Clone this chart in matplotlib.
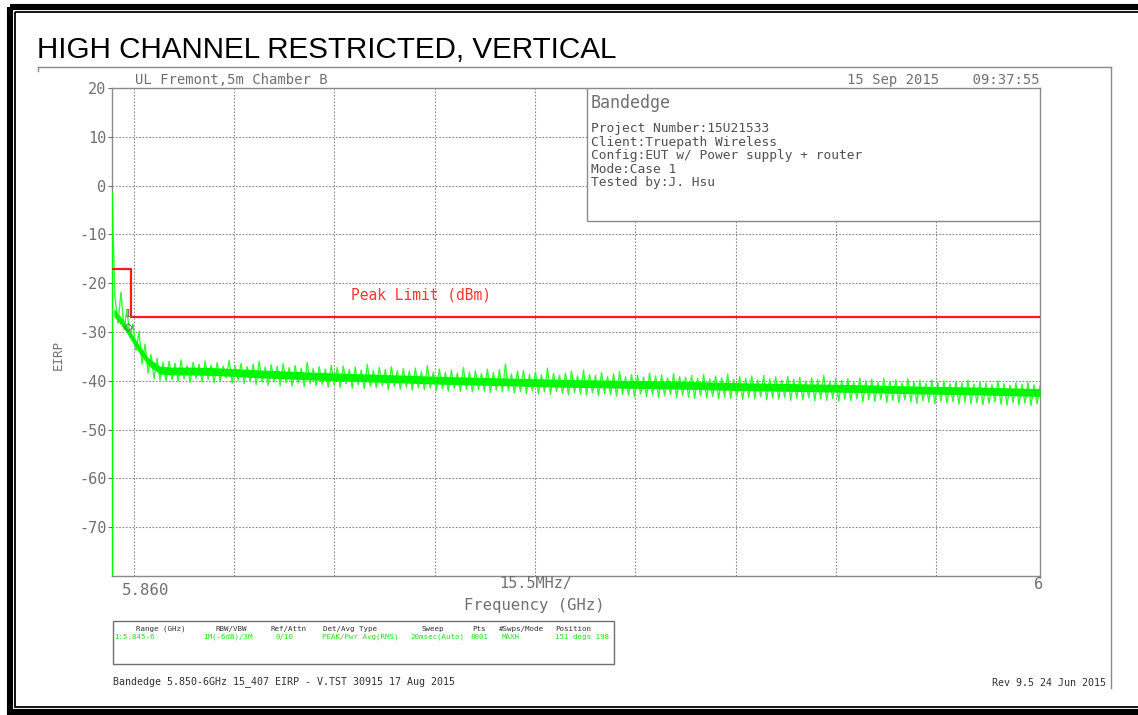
import numpy as np
import matplotlib.pyplot as plt
from matplotlib.patches import Rectangle

# sweep settings / axis data
f_start, f_stop = 5.845, 6.0
db_min, db_max = -80, 20
db_ticks = [20, 10, 0, -10, -20, -30, -40, -50, -60, -70]
grid_freqs = [5.8486, 5.8653, 5.8821, 5.8989, 5.9157, 5.9324, 5.9492, 5.9660, 5.9827]

# peak limit line (dBm)
limit_freqs = [5.845, 5.8481, 5.8481, 6.0]
limit_db = [-17, -17, -27, -27]

# marker 1
marker_freq = 5.8477
marker_db = -29.0

trace_db = [
    -1.5, -23.0, -28.2, -21.8, -29.5, -25.4, -31.0, -28.3, -33.8, -29.9,
    -36.6, -32.5, -38.4, -34.6, -39.6, -35.4, -39.9, -36.2, -40.0, -36.0,
    -39.8, -36.4, -40.1, -35.7, -39.6, -36.9, -40.3, -36.2, -39.5, -36.6,
    -40.2, -35.9, -39.7, -36.8, -40.4, -36.3, -40.0, -37.0, -39.4, -35.8,
    -40.5, -36.9, -39.9, -36.4, -40.6, -37.1, -40.1, -36.6, -40.8, -36.0,
    -40.3, -37.2, -40.9, -36.7, -40.2, -37.0, -41.0, -36.5, -40.4, -37.3,
    -41.1, -36.9, -40.5, -37.4, -41.2, -36.2, -40.6, -37.5, -41.0, -37.1,
    -40.7, -37.6, -41.3, -36.8, -40.9, -37.3, -41.4, -37.0, -40.6, -37.7,
    -41.5, -37.2, -40.8, -37.8, -41.6, -36.6, -41.1, -37.9, -41.4, -37.3,
    -41.0, -37.7, -41.8, -37.1, -41.2, -37.9, -41.7, -37.5, -41.3, -38.0,
    -41.9, -37.4, -41.4, -38.1, -41.8, -36.9, -41.5, -38.2, -42.0, -37.6,
    -41.6, -38.3, -42.1, -37.8, -41.5, -38.4, -42.2, -37.3, -41.7, -38.2,
    -42.3, -37.9, -41.8, -38.5, -42.1, -37.6, -42.4, -38.3, -41.9, -37.7,
    -42.3, -36.6, -42.0, -38.6, -42.5, -38.0, -42.2, -37.9, -42.6, -38.7,
    -42.1, -38.2, -42.7, -38.8, -42.3, -37.4, -42.8, -38.5, -42.2, -38.9,
    -42.6, -38.4, -42.9, -38.0, -42.4, -39.0, -42.7, -37.8, -43.0, -38.7,
    -42.5, -38.9, -43.1, -38.3, -42.6, -39.1, -42.9, -38.6, -43.2, -38.1,
    -42.8, -39.2, -43.0, -38.7, -43.3, -38.9, -42.7, -39.3, -43.2, -38.4,
    -42.9, -39.0, -43.4, -38.8, -43.1, -39.4, -42.8, -38.5, -43.5, -39.1,
    -43.0, -39.3, -43.4, -38.9, -43.6, -39.5, -43.1, -38.7, -43.5, -39.6,
    -43.2, -39.0, -43.7, -39.4, -43.3, -38.6, -43.6, -39.7, -43.2, -39.1,
    -43.8, -39.5, -43.4, -39.0, -43.7, -39.8, -43.3, -38.9, -43.9, -39.6,
    -43.5, -39.2, -43.8, -39.9, -43.4, -39.1, -44.0, -39.7, -43.6, -39.3,
    -43.9, -40.0, -43.5, -39.4, -44.1, -39.8, -43.7, -38.9, -44.0, -40.1,
    -43.6, -39.5, -44.2, -39.9, -43.8, -39.6, -44.1, -40.2, -43.7, -39.4,
    -44.3, -40.0, -43.9, -39.7, -44.2, -40.3, -43.8, -39.5, -44.4, -40.1,
    -44.0, -39.8, -44.5, -40.4, -43.9, -39.6, -44.3, -40.2, -44.6, -39.9,
    -44.1, -40.5, -44.4, -39.8, -44.7, -40.3, -44.2, -40.0, -44.6, -40.6,
    -44.3, -40.1, -44.8, -40.4, -44.4, -39.9, -44.7, -40.7, -44.5, -40.2,
    -44.9, -40.5, -44.6, -40.8, -44.3, -40.0, -44.8, -40.6, -45.0, -40.9,
    -44.5, -40.4, -44.9, -40.7, -44.6, -40.3, -45.1, -40.8, -44.7, -41.0,
]

# dense core of the noise band (lower / upper edge)
band_freqs = [5.8453, 5.847, 5.849, 5.851, 5.853, 5.855, 5.858, 5.862, 5.870, 5.880, 5.890,
              5.900, 5.910, 5.920, 5.930, 5.940, 5.950, 5.960, 5.970, 5.980, 5.990, 6.000]
band_lo = [-26.8, -29.3, -33.3, -36.8, -38.6, -38.8, -38.8, -38.9, -39.4, -39.9, -40.3,
           -40.7, -41.0, -41.3, -41.5, -41.7, -42.0, -42.2, -42.4, -42.7, -42.9, -43.2]
band_hi = [-25.2, -27.7, -31.7, -35.2, -37.0, -37.2, -37.2, -37.3, -37.8, -38.3, -38.7,
           -39.1, -39.4, -39.7, -39.9, -40.1, -40.4, -40.6, -40.8, -41.1, -41.3, -41.6]

info_lines = ["Project Number:15U21533", "Client:Truepath Wireless",
              "Config:EUT w/ Power supply + router", "Mode:Case 1", "Tested by:J. Hsu"]

set_heads = ["Range (GHz)", "RBW/VBW", "Ref/Attn", "Det/Avg Type", "Sweep",
             "Pts", "#Swps/Mode", "Position"]
set_vals = ["1:5.845-6", "1M(-6dB)/3M", "0/10", "PEAK/Pwr Avg(RMS)", "20msec(Auto)",
            "8001", "MAXH", "151 degs 198"]
head_x = [136, 216, 271, 323, 422, 472, 499, 555]
val_x = [114, 203, 276, 322, 410, 471, 502, 555]

GREY = '#707070'
MONO = 'DejaVu Sans Mono'

W, H = 1138, 715
fig = plt.figure(figsize=(W / 100, H / 100), dpi=100)

# ---------------- main plot ----------------
ax = fig.add_axes([112 / W, 1 - 576 / H, 928 / W, 488 / H])
ax.set_xlim(f_start, f_stop)
ax.set_ylim(db_min, db_max)

freq = np.linspace(f_start, f_stop, len(trace_db))
ax.plot(freq, trace_db, color='#33ff33', lw=1.0, zorder=3)
ax.fill_between(band_freqs, band_lo, band_hi, color='#00f500', lw=0, zorder=3)
ax.vlines(freq[0], db_min, trace_db[0], color='#00ff00', lw=1.5, zorder=3)
ax.plot(limit_freqs, limit_db, color='#ff1a1a', lw=1.6, zorder=4)

ax.plot(marker_freq, marker_db, marker='D', ms=4, mfc='none', mec=GREY, mew=0.8, zorder=5)
ax.text(marker_freq, marker_db + 2.6, '1', fontsize=8, color=GREY,
        family=MONO, ha='center', va='center', zorder=5)
ax.text(5.8849, -22.4, 'Peak Limit (dBm)', fontsize=10.5, color='#ff3333',
        family=MONO, ha='left', va='center')

ax.set_xticks(grid_freqs)
ax.set_xticklabels([])
ax.set_yticks(db_ticks)
ax.set_yticklabels([str(v) for v in db_ticks], family=MONO, fontsize=11, color=GREY)
ax.tick_params(axis='x', length=0)
ax.tick_params(axis='y', length=3, color=GREY, pad=1)
ax.grid(True, color='#888888', lw=0.8, ls=(0, (1.5, 1.5)))
ax.set_axisbelow(True)
for s in ax.spines.values():
    s.set_color('#8a8a8a')
    s.set_linewidth(1)

# info box inside the plot
x0 = (587 - 112) / 928
y0 = (576 - 221) / 488
ax.add_patch(Rectangle((x0, y0), 1 - x0, 1 - y0, transform=ax.transAxes,
                       facecolor='white', edgecolor='#8a8a8a', lw=1, zorder=6))

# ---------------- overlay (pixel coordinates) ----------------
ov = fig.add_axes([0, 0, 1, 1], zorder=10)
ov.set_xlim(0, W)
ov.set_ylim(H, 0)
ov.axis('off')
ov.patch.set_alpha(0)

# page borders
ov.add_patch(Rectangle((10, 7), 1200, 705, fill=False, edgecolor='black', lw=4.4))
ov.add_patch(Rectangle((15.5, 12.3), 1200, 694.2, fill=False, edgecolor='black', lw=1.3))

ov.plot([38, 1111], [67, 67], color='#8a8a8a', lw=1)
ov.plot([38, 38], [67, 71], color='#8a8a8a', lw=1)
ov.plot([1111, 1111], [67, 688], color='#8a8a8a', lw=1)

ov.text(37, 58, 'HIGH CHANNEL RESTRICTED, VERTICAL', family='Liberation Sans',
        fontsize=21.3, color='black', va='baseline', ha='left')

ov.text(135, 84, 'UL Fremont,5m Chamber B', family=MONO, fontsize=10,
        color=GREY, va='baseline')
ov.text(1040, 84, '15 Sep 2015    09:37:55', family=MONO, fontsize=10,
        color=GREY, va='baseline', ha='right')

ov.text(591, 108, 'Bandedge', family=MONO, fontsize=12, color=GREY, va='baseline')
for k, line in enumerate(info_lines):
    ov.text(591, 132 + k * 13.6, line, family=MONO, fontsize=9.3,
            color='#505050', va='baseline')

ov.text(58, 355, 'EIRP', family=MONO, fontsize=9, color=GREY, rotation=90,
        ha='center', va='center')

ov.text(122, 595, '5.860', family=MONO, fontsize=11.3, color=GREY, va='baseline')
ov.text(536, 588, '15.5MHz/', family=MONO, fontsize=11, color=GREY,
        va='baseline', ha='center')
ov.text(1039, 589, '6', family=MONO, fontsize=11, color=GREY,
        va='baseline', ha='center')
ov.text(534, 610, 'Frequency (GHz)', family=MONO, fontsize=11.2, color=GREY,
        va='baseline', ha='center')

# settings table
ov.add_patch(Rectangle((113, 621), 501, 43, fill=False, edgecolor=GREY, lw=1))
for hx, h in zip(head_x, set_heads):
    ov.text(hx, 631, h, family=MONO, fontsize=5.4, color='#303030', va='baseline')
for vx, v in zip(val_x, set_vals):
    ov.text(vx, 639, v, family=MONO, fontsize=5.4, color='#22dd22', va='baseline')

ov.text(113, 684, 'Bandedge 5.850-6GHz 15_407 EIRP - V.TST 30915 17 Aug 2015',
        family=MONO, fontsize=7.2, color='#303030', va='baseline')
ov.text(1106, 686, 'Rev 9.5 24 Jun 2015', family=MONO, fontsize=7.2,
        color='#303030', va='baseline', ha='right')

fig.savefig('out.png', dpi=100)
